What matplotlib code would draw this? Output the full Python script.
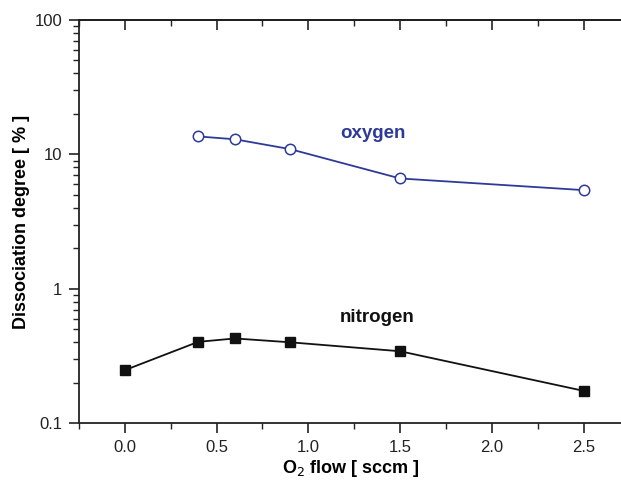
import matplotlib
matplotlib.use("Agg")
import matplotlib.pyplot as plt
from matplotlib.ticker import LogLocator, FixedLocator, MultipleLocator, FixedFormatter

plt.rcParams['font.family'] = ['Liberation Sans', 'DejaVu Sans']

n2_flow = [0.0, 0.4, 0.6, 0.9, 1.5, 2.5]
n2_diss = [0.248, 0.403, 0.427, 0.400, 0.343, 0.174]
o2_flow = [0.4, 0.6, 0.9, 1.5, 2.5]
o2_diss = [13.6, 12.95, 10.95, 6.62, 5.42]

x_ticks = [0.0, 0.5, 1.0, 1.5, 2.0, 2.5]
x_tick_labels = ["0.0", "0.5", "1.0", "1.5", "2.0", "2.5"]
y_ticks = [0.1, 1, 10, 100]
y_tick_labels = ["0.1", "1", "10", "100"]

blue = "#2e3a98"
fig = plt.figure(figsize=(6.21, 4.87), dpi=100)
ax = fig.add_axes([0.127, 0.131, 0.875, 0.828])

ax.plot(n2_flow, n2_diss, color="#111111", lw=1.3, marker="s", ms=7,
        mfc="#111111", mec="#111111", zorder=3)
ax.plot(o2_flow, o2_diss, color=blue, lw=1.3, marker="o", ms=7.5,
        mfc="white", mec=blue, mew=1.1, zorder=3)

ax.set_yscale("log")
ax.set_ylim(0.1, 100)
ax.set_xlim(-0.25, 2.71)

ax.xaxis.set_major_locator(FixedLocator(x_ticks))
ax.xaxis.set_major_formatter(FixedFormatter(x_tick_labels))
ax.xaxis.set_minor_locator(MultipleLocator(0.25))
ax.yaxis.set_major_locator(FixedLocator(y_ticks))
ax.yaxis.set_major_formatter(FixedFormatter(y_tick_labels))
ax.yaxis.set_minor_locator(LogLocator(base=10, subs=range(2, 10)))
ax.yaxis.set_minor_formatter(FixedFormatter([]))

ax.tick_params(axis='both', which='major', labelsize=12, length=7, width=1.2, colors="#222222", pad=5)
ax.tick_params(axis='both', which='minor', length=4, width=1.0, colors="#222222")
ax.tick_params(axis='x', which='both', direction='out', bottom=True)
ax.tick_params(axis='y', which='both', direction='out', left=True)

# top / right mirrored ticks pointing inward
sec_x = ax.secondary_xaxis('top')
sec_x.xaxis.set_major_locator(FixedLocator(x_ticks))
sec_x.xaxis.set_minor_locator(MultipleLocator(0.25))
sec_x.tick_params(which='major', direction='in', length=7, width=1.2, labeltop=False, colors="#222222")
sec_x.tick_params(which='minor', direction='in', length=4, width=1.0, colors="#222222")
sec_x.spines['top'].set_linewidth(1.3)
sec_x.set_xticklabels([])

ax.tick_params(axis='y', which='both', right=True, labelright=False)

for s in ax.spines.values():
    s.set_linewidth(1.3)
    s.set_color("#222222")

ax.set_xlabel("O$_2$ flow [ sccm ]", fontsize=13, fontweight='bold', labelpad=2)
ax.set_ylabel("Dissociation degree [ % ]", fontsize=13, fontweight='bold', labelpad=3)

ax.text(1.352, 14.35, "oxygen", color=blue, fontsize=13.5, fontweight='bold',
        ha='center', va='center')
ax.text(1.374, 0.608, "nitrogen", color="#111111", fontsize=13.5, fontweight='bold',
        ha='center', va='center')

fig.savefig("out.png", dpi=100)
